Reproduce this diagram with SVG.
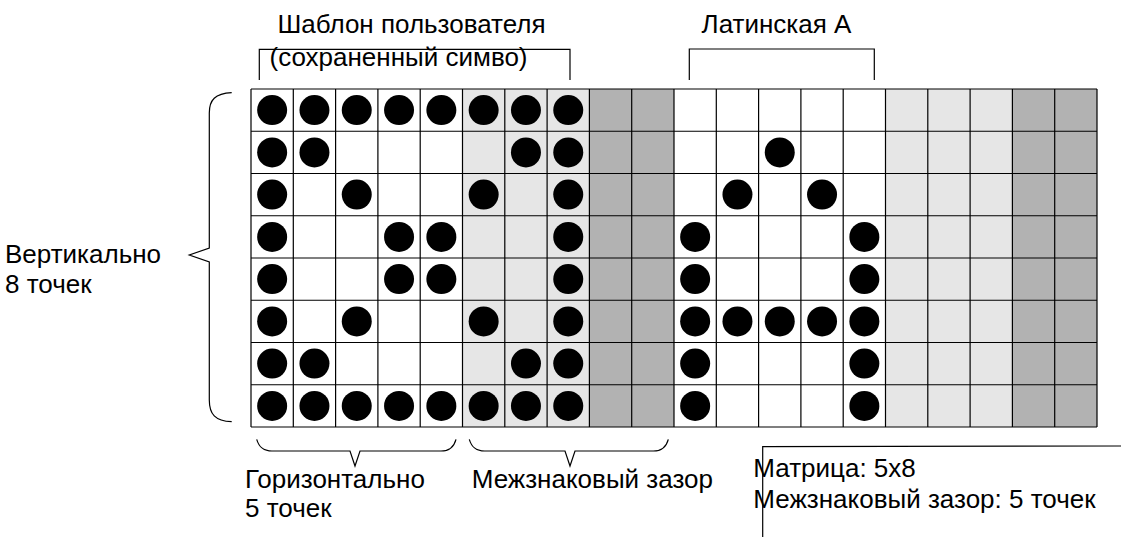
<svg xmlns="http://www.w3.org/2000/svg" width="1121" height="537" viewBox="0 0 1121 537">
<style>
text{font-family:"Liberation Sans",Arial,sans-serif;font-size:26px;fill:#000}
.ln{fill:none;stroke:#000;stroke-width:1.2}
.br{fill:none;stroke:#000;stroke-width:1.2}
.dot{fill:#000}
.lg{fill:#e6e6e6}
.dg{fill:#b2b2b2}
</style>
<rect width="1121" height="537" fill="#fff"/>
<g id="grid">
<rect x="251" y="89" width="846" height="338" fill="#fff"/>
<rect class="lg" x="462.5" y="89" width="126.9" height="338"/>
<rect class="dg" x="589.4" y="89" width="84.6" height="338"/>
<rect class="lg" x="885.5" y="89" width="126.9" height="338"/>
<rect class="dg" x="1012.4" y="89" width="84.6" height="338"/>
<path class="ln" d="M251 89V427M293.3 89V427M335.6 89V427M377.9 89V427M420.2 89V427M462.5 89V427M504.8 89V427M547.1 89V427M589.4 89V427M631.7 89V427M674 89V427M716.3 89V427M758.6 89V427M800.9 89V427M843.2 89V427M885.5 89V427M927.8 89V427M970.1 89V427M1012.4 89V427M1054.7 89V427M1097 89V427M251 89H1097M251 131.25H1097M251 173.5H1097M251 215.75H1097M251 258H1097M251 300.25H1097M251 342.5H1097M251 384.75H1097M251 427H1097"/>
</g>
<g id="dots">
<circle class="dot" cx="272.15" cy="110.1" r="15"/><circle class="dot" cx="314.45" cy="110.1" r="15"/><circle class="dot" cx="356.75" cy="110.1" r="15"/><circle class="dot" cx="399.05" cy="110.1" r="15"/><circle class="dot" cx="441.35" cy="110.1" r="15"/><circle class="dot" cx="483.65" cy="110.1" r="15"/><circle class="dot" cx="525.95" cy="110.1" r="15"/><circle class="dot" cx="568.25" cy="110.1" r="15"/>
<circle class="dot" cx="272.15" cy="152.4" r="15"/><circle class="dot" cx="314.45" cy="152.4" r="15"/><circle class="dot" cx="525.95" cy="152.4" r="15"/><circle class="dot" cx="568.25" cy="152.4" r="15"/><circle class="dot" cx="779.75" cy="152.4" r="15"/>
<circle class="dot" cx="272.15" cy="194.6" r="15"/><circle class="dot" cx="356.75" cy="194.6" r="15"/><circle class="dot" cx="483.65" cy="194.6" r="15"/><circle class="dot" cx="568.25" cy="194.6" r="15"/><circle class="dot" cx="737.45" cy="194.6" r="15"/><circle class="dot" cx="822.05" cy="194.6" r="15"/>
<circle class="dot" cx="272.15" cy="236.9" r="15"/><circle class="dot" cx="399.05" cy="236.9" r="15"/><circle class="dot" cx="441.35" cy="236.9" r="15"/><circle class="dot" cx="568.25" cy="236.9" r="15"/><circle class="dot" cx="695.15" cy="236.9" r="15"/><circle class="dot" cx="864.35" cy="236.9" r="15"/>
<circle class="dot" cx="272.15" cy="279.1" r="15"/><circle class="dot" cx="399.05" cy="279.1" r="15"/><circle class="dot" cx="441.35" cy="279.1" r="15"/><circle class="dot" cx="568.25" cy="279.1" r="15"/><circle class="dot" cx="695.15" cy="279.1" r="15"/><circle class="dot" cx="864.35" cy="279.1" r="15"/>
<circle class="dot" cx="272.15" cy="321.4" r="15"/><circle class="dot" cx="356.75" cy="321.4" r="15"/><circle class="dot" cx="483.65" cy="321.4" r="15"/><circle class="dot" cx="568.25" cy="321.4" r="15"/><circle class="dot" cx="695.15" cy="321.4" r="15"/><circle class="dot" cx="737.45" cy="321.4" r="15"/><circle class="dot" cx="779.75" cy="321.4" r="15"/><circle class="dot" cx="822.05" cy="321.4" r="15"/><circle class="dot" cx="864.35" cy="321.4" r="15"/>
<circle class="dot" cx="272.15" cy="363.6" r="15"/><circle class="dot" cx="314.45" cy="363.6" r="15"/><circle class="dot" cx="525.95" cy="363.6" r="15"/><circle class="dot" cx="568.25" cy="363.6" r="15"/><circle class="dot" cx="695.15" cy="363.6" r="15"/><circle class="dot" cx="864.35" cy="363.6" r="15"/>
<circle class="dot" cx="272.15" cy="405.9" r="15"/><circle class="dot" cx="314.45" cy="405.9" r="15"/><circle class="dot" cx="356.75" cy="405.9" r="15"/><circle class="dot" cx="399.05" cy="405.9" r="15"/><circle class="dot" cx="441.35" cy="405.9" r="15"/><circle class="dot" cx="483.65" cy="405.9" r="15"/><circle class="dot" cx="525.95" cy="405.9" r="15"/><circle class="dot" cx="568.25" cy="405.9" r="15"/><circle class="dot" cx="695.15" cy="405.9" r="15"/><circle class="dot" cx="864.35" cy="405.9" r="15"/>
</g>
<g id="connectors">
<path class="br" d="M259.3 80V49.3H570V80"/>
<path class="br" d="M689.3 80V49H874.3V80"/>
<path class="br" d="M231.7 92.7C215 93.5 209.3 100 209.3 113V248L189.3 255L209.3 262V400C209.3 414 215 421 231.7 421.7"/>
<path class="br" d="M256.7 439.3C259 447 263 451 272 451H350L355 466L360 451H441C450 451 454 447 456 439.3"/>
<path class="br" d="M469.3 439.3C471.6 447 475.6 451 484.6 451H565L570 466L575 451H653.3C662.3 451 666.3 447 668.3 439.3"/>
<path class="br" d="M762.7 537V446.7L1121 446"/>
</g>
<g id="labels">
<text x="411.5" y="33" text-anchor="middle">Шаблон пользователя</text>
<text x="398.5" y="65.7" text-anchor="middle">(сохраненный симво)</text>
<text x="776.5" y="33" text-anchor="middle">Латинская А</text>
<text x="5" y="263">Вертикально</text>
<text x="5" y="293">8 точек</text>
<text x="245" y="488">Горизонтально</text>
<text x="245" y="516.7">5 точек</text>
<text x="471.7" y="488">Межзнаковый зазор</text>
<text x="753.3" y="476.7">Матрица: 5x8</text>
<text x="753.3" y="508.3">Межзнаковый зазор: 5 точек</text>
</g>
</svg>
